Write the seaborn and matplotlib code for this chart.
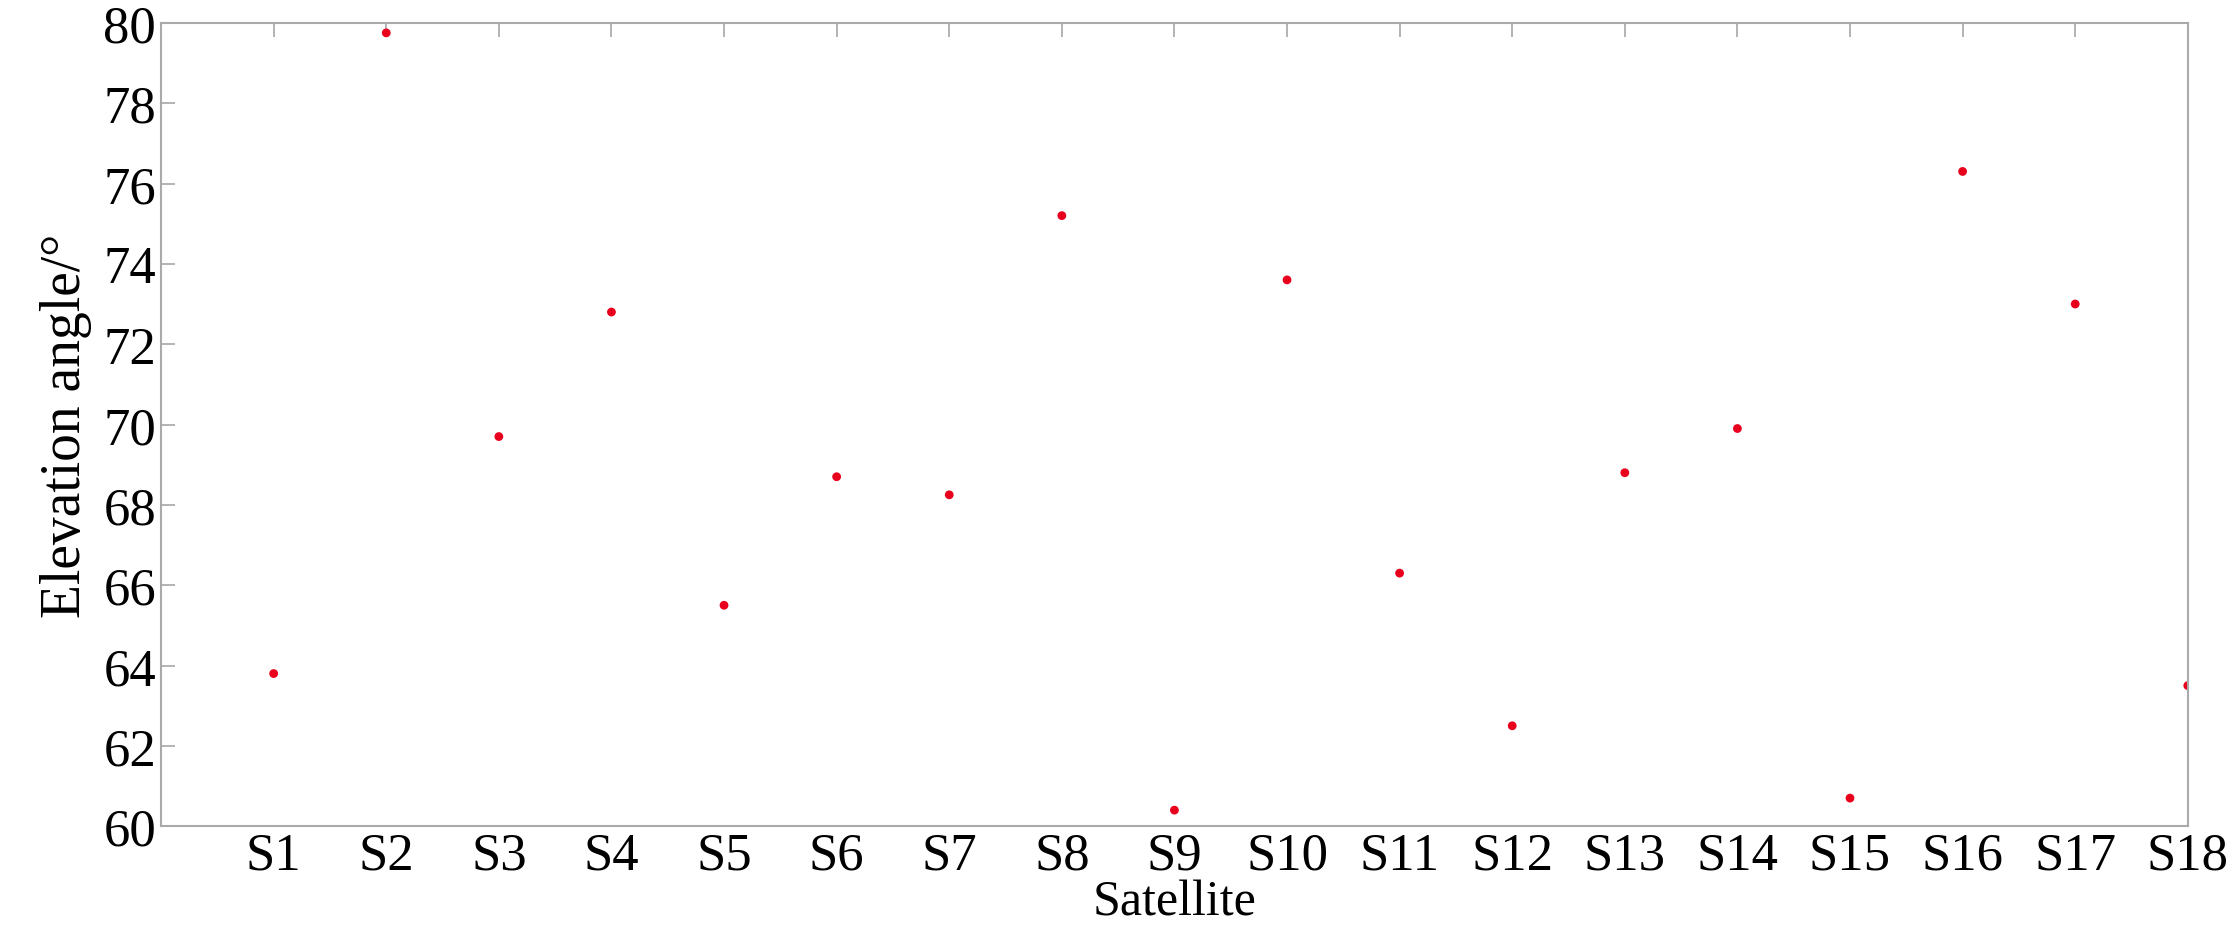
import matplotlib
matplotlib.use("Agg")
import matplotlib.pyplot as plt
import seaborn as sns
import pandas as pd

satellites = [f"S{i}" for i in range(1, 19)]
positions = list(range(1, 19))
elevation = [63.8, 79.75, 69.7, 72.8, 65.5, 68.7, 68.25, 75.2, 60.4, 73.6,
             66.3, 62.5, 68.8, 69.9, 60.7, 76.3, 73.0, 63.5]
yticks = list(range(60, 81, 2))

sns.set_theme(style="white")
plt.rcParams['font.family'] = ['Liberation Serif', 'DejaVu Serif']
plt.rcParams['text.color'] = 'black'

df = pd.DataFrame({"pos": positions, "elev": elevation})
fig = plt.figure(figsize=(22.37, 9.53), dpi=100)
ax = fig.add_axes([0.072, 0.395 * 0 + 0.132, 0.906, 0.843])
sns.scatterplot(data=df, x="pos", y="elev", ax=ax, color="#e8001c", s=40,
                edgecolor="none", legend=False)
ax.set_xlim(0, 18)
ax.set_ylim(60, 80)
ax.set_xticks(positions)
ax.set_xticklabels(satellites)
ax.set_yticks(yticks)
ax.tick_params(axis="both", direction="in", length=10, color="#aaaaaa",
               labelsize=38, labelcolor="black", top=True, bottom=False,
               left=True, right=False)
for s in ax.spines.values():
    s.set_color("#aaaaaa")
    s.set_linewidth(1.5)
ax.set_xlabel("Satellite", fontsize=36, labelpad=0, color="black")
ax.set_ylabel("Elevation angle/°", fontsize=40, labelpad=8, color="black")
fig.savefig("out.png", dpi=100)
